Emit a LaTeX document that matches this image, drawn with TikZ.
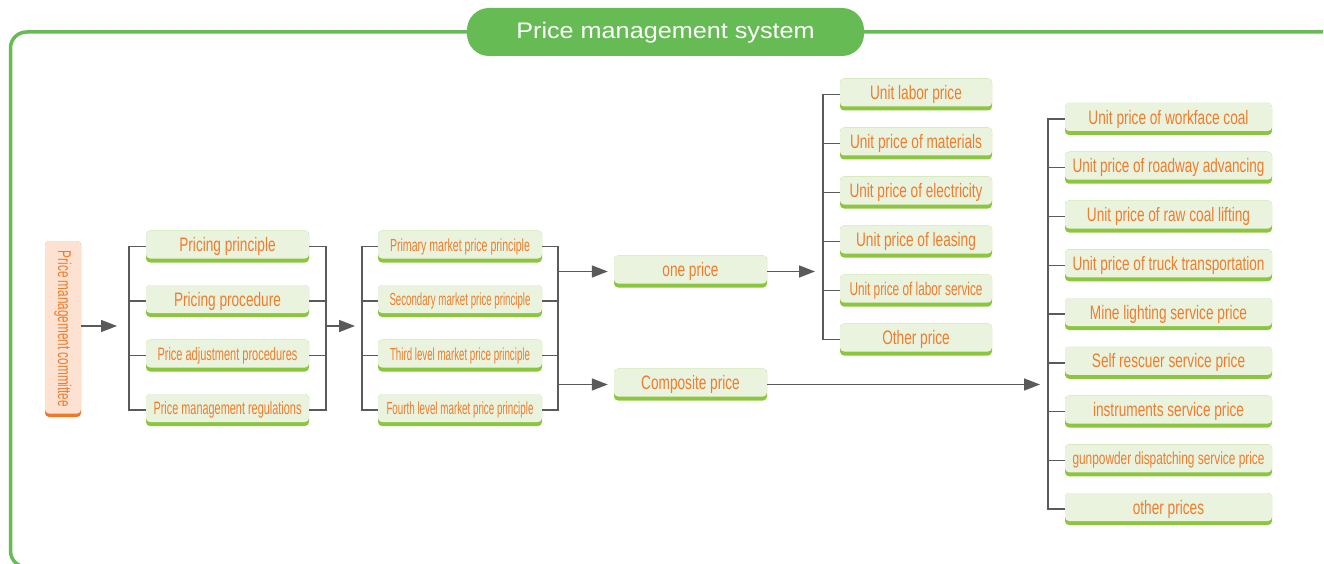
\documentclass[tikz,border=0pt]{standalone}
\usepackage{fontspec}
\setmainfont{Liberation Sans}
\usepackage{graphicx}
\usetikzlibrary{arrows.meta}
\definecolor{titlegreen}{RGB}{102,187,85}
\definecolor{band}{RGB}{140,198,63}
\definecolor{boxfill}{RGB}{234,243,222}
\definecolor{orangetxt}{RGB}{240,124,44}
\definecolor{peach}{RGB}{253,226,210}
\definecolor{orangeband}{RGB}{240,120,40}
\definecolor{conngray}{RGB}{90,90,90}
\newsavebox\ftbox
\newcommand\ft[3]{\sbox\ftbox{\fontsize{#1}{#1}\selectfont #3}\pgfmathsetmacro\ftsx{min(0.70,#2/\the\wd\ftbox)}\raisebox{2pt}{\scalebox{\ftsx}[1]{\usebox\ftbox}}}
\begin{document}
\begin{tikzpicture}[x=1pt,y=-1pt,
  gbox/.style={rounded corners=4pt, minimum height=32pt, inner sep=0pt, fill=band,
    text=orangetxt,
    path picture={\fill[boxfill] ([yshift=4pt]path picture bounding box.south west) rectangle (path picture bounding box.north east);}},
  pbox/.style={rounded corners=4pt, minimum width=36pt, minimum height=176pt, inner sep=0pt, fill=orangeband,
    text=orangetxt,
    path picture={\fill[peach] ([yshift=3.5pt]path picture bounding box.south west) rectangle (path picture bounding box.north east);}},
  conn/.style={draw=conngray, line width=1.5pt},
  arr/.style={conn, -{Triangle[length=16pt,width=12pt]}},
  frame/.style={draw=titlegreen, line width=3.5pt, rounded corners=16pt},
]
\useasboundingbox (0,0) rectangle (1324,564);
% frame
\draw[frame] (1323,32) -- (10.5,32) -- (10.5,567) -- (1323,567);
\node[fill=titlegreen, rounded corners=22pt, minimum width=397pt, minimum height=48pt, inner sep=0pt, text=white,
  text height=13pt, text depth=0pt] (title) at (665.5,32)
  {\scalebox{1.12}[1]{\fontsize{22.5}{22.5}\selectfont Price management system}};

% committee
\node[pbox] (cm) at (63,329) {\rotatebox{-90}{\scalebox{0.635}[1]{\fontsize{18.5}{18.5}\selectfont Price management committee}}};

% column 2
\node[gbox, minimum width=163pt] (p1) at (227.5,246.5) {\ft{19.5}{148}{Pricing principle}};
\node[gbox, minimum width=163pt] (p2) at (227.5,301) {\ft{19.5}{148}{Pricing procedure}};
\node[gbox, minimum width=163pt] (p3) at (227.5,355.5) {\ft{18}{140}{Price adjustment procedures}};
\node[gbox, minimum width=163pt] (p4) at (227.5,410) {\ft{18}{148}{Price management regulations}};

% column 3
\node[gbox, minimum width=164pt] (q1) at (460,246.5) {\ft{17.5}{140}{Primary market price principle}};
\node[gbox, minimum width=164pt] (q2) at (460,301) {\ft{17.5}{141}{Secondary market price principle}};
\node[gbox, minimum width=164pt] (q3) at (460,355.5) {\ft{17.5}{140}{Third level market price principle}};
\node[gbox, minimum width=164pt] (q4) at (460,410) {\ft{17.5}{147}{Fourth level market price principle}};

% column 4
\node[gbox, minimum width=153pt] (op) at (690.5,271.5) {\ft{19.5}{140}{one price}};
\node[gbox, minimum width=153pt] (cp) at (690.5,384.5) {\ft{19.5}{140}{Composite price}};

% column 5
\foreach \s/\t [count=\i from 0] in {19.5/Unit labor price, 19.5/Unit price of materials, 19.5/Unit price of electricity, 19.5/Unit price of leasing, 18.5/Unit price of labor service, 19.5/Other price}
  \node[gbox, minimum width=152pt] (u\i) at (916,{94.5+49*\i}) {\ft{\s}{133}{\t}};

% column 6
\foreach \s/\t [count=\i from 0] in {19.5/Unit price of workface coal, 19.5/Unit price of roadway advancing, 19.5/Unit price of raw coal lifting, 19.5/Unit price of truck transportation, 19.5/Mine lighting service price, 19.5/Self rescuer service price, 19.5/instruments service price, 17.5/gunpowder dispatching service price, 19.5/other prices}
  \node[gbox, minimum width=207pt] (v\i) at (1168.5,{119+48.75*\i}) {\ft{\s}{192}{\t}};

% bracket coordinates
\coordinate (t1) at (117,326);
\coordinate (L2) at (129,0);
\coordinate (R2) at (326,0);
\coordinate (t2) at (355,326);
\coordinate (L3) at (362,0);
\coordinate (R3) at (558,0);
\coordinate (t3) at (815,0);
\coordinate (L5) at (823,0);
\coordinate (t4) at (1040,0);
\coordinate (L6) at (1048,0);

% committee -> column 2
\draw[arr] (cm.east |- t1) -- (t1);
\draw[conn] (p1.west) -- (p1.west -| L2) -- (p4.west -| L2) -- (p4.west);
\draw[conn] (p2.west) -- (p2.west -| L2);
\draw[conn] (p3.west) -- (p3.west -| L2);
\draw[conn] (p1.east) -- (p1.east -| R2) -- (p4.east -| R2) -- (p4.east);
\draw[conn] (p2.east) -- (p2.east -| R2);
\draw[conn] (p3.east) -- (p3.east -| R2);
\draw[arr] (R2 |- t2) -- (t2);

% column 3
\draw[conn] (q1.west) -- (q1.west -| L3) -- (q4.west -| L3) -- (q4.west);
\draw[conn] (q2.west) -- (q2.west -| L3);
\draw[conn] (q3.west) -- (q3.west -| L3);
\draw[conn] (q1.east) -- (q1.east -| R3) -- (q4.east -| R3) -- (q4.east);
\draw[conn] (q2.east) -- (q2.east -| R3);
\draw[conn] (q3.east) -- (q3.east -| R3);
\draw[arr] (R3 |- op.west) -- ([xshift=-6pt]op.west);
\draw[arr] (R3 |- cp.west) -- ([xshift=-6pt]cp.west);

% one price -> column 5
\draw[arr] (op.east) -- (op.east -| t3);
\draw[conn] (u0.west) -- (u0.west -| L5) -- (u5.west -| L5) -- (u5.west);
\foreach \i in {1,...,4} \draw[conn] (u\i.west) -- (u\i.west -| L5);

% composite price -> column 6
\draw[arr] (cp.east) -- (cp.east -| t4);
\draw[conn] (v0.west) -- (v0.west -| L6) -- (v8.west -| L6) -- (v8.west);
\foreach \i in {1,...,7} \draw[conn] (v\i.west) -- (v\i.west -| L6);
\end{tikzpicture}
\end{document}
